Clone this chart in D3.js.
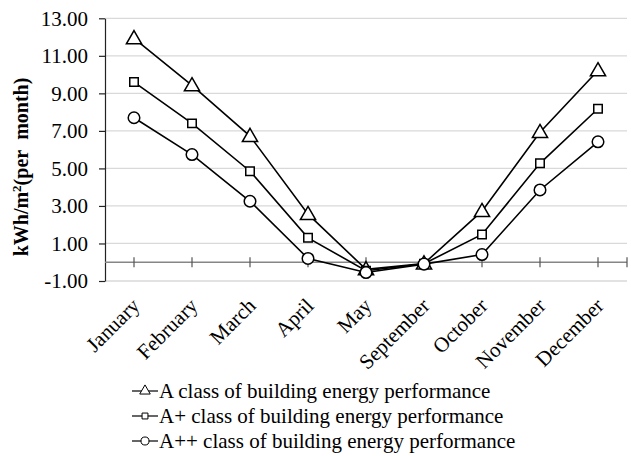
<!DOCTYPE html>
<html>
<head>
<meta charset="utf-8">
<script src="https://cdn.jsdelivr.net/npm/d3@7.9.0/dist/d3.min.js"></script>
<style>
  body { margin: 0; background: #fff; }
  svg text { font-family: "Liberation Serif", "Times New Roman", "DejaVu Serif", serif; }
</style>
</head>
<body>
<svg id="chart" width="631" height="456"></svg>
<script>
const months = ['January', 'February', 'March', 'April', 'May', 'September', 'October', 'November', 'December'];
const classA = [11.93, 9.42, 6.72, 2.56, -0.38, -0.07, 2.72, 6.93, 10.22];
const classAPlus = [9.6, 7.4, 4.85, 1.3, -0.45, -0.08, 1.48, 5.27, 8.18];
const classAPlusPlus = [7.7, 5.74, 3.25, 0.2, -0.55, -0.1, 0.41, 3.85, 6.42];
const yTicks = [-1, 1, 3, 5, 7, 9, 11, 13];

const series = [
  { name: 'A class of building energy performance', values: classA, symbol: d3.symbolTriangle },
  { name: 'A+ class of building energy performance', values: classAPlus, symbol: d3.symbolSquare },
  { name: 'A++ class of building energy performance', values: classAPlusPlus, symbol: d3.symbolCircle }
];

const serif = 'Liberation Serif';
const svg = d3.select('#chart');
const plotLeft = 105, plotRight = 627, plotTop = 18.3, plotBottom = 281;

const x = d3.scaleBand().domain(months).range([plotLeft, plotRight]);
const y = d3.scaleLinear().domain([-1, 13]).range([plotBottom, plotTop]);
const cx = (m) => x(m) + x.bandwidth() / 2;

// gridlines
svg.append('g')
  .selectAll('line')
  .data(yTicks)
  .join('line')
  .attr('x1', plotLeft).attr('x2', plotRight)
  .attr('y1', (d) => y(d)).attr('y2', (d) => y(d))
  .attr('stroke', '#d9d9d9').attr('stroke-width', 1.3);

// y axis
const yAxis = svg.append('g')
  .attr('transform', `translate(${plotLeft},0)`)
  .call(d3.axisLeft(y).tickValues(yTicks).tickSize(6).tickSizeOuter(0)
    .tickFormat((d) => d.toFixed(2)));
yAxis.attr('font-family', serif);
yAxis.select('.domain').attr('stroke', '#222').attr('stroke-width', 1.2);
yAxis.selectAll('.tick line').attr('stroke', '#222').attr('stroke-width', 1.2);
yAxis.selectAll('.tick text')
  .attr('x', -17)
  .attr('font-size', 21)
  .attr('fill', '#000');

// zero axis with crossing ticks
const zero = svg.append('g');
zero.append('line')
  .attr('x1', plotLeft).attr('x2', plotRight)
  .attr('y1', y(0)).attr('y2', y(0))
  .attr('stroke', '#868686').attr('stroke-width', 1.5);
zero.selectAll('line.tk')
  .data(months.map(cx).concat([plotRight]))
  .join('line')
  .attr('class', 'tk')
  .attr('x1', (d) => d).attr('x2', (d) => d)
  .attr('y1', y(0) - 5).attr('y2', y(0) + 5)
  .attr('stroke', '#555').attr('stroke-width', 1.2);

// month labels
svg.append('g')
  .selectAll('text')
  .data(months)
  .join('text')
  .attr('transform', (d) => `translate(${cx(d) + 7},${307}) rotate(-45)`)
  .attr('text-anchor', 'end')
  .attr('font-size', 21)
  .text((d) => d);

// y label
svg.append('text')
  .attr('transform', 'translate(28,167) rotate(-90)')
  .attr('text-anchor', 'middle')
  .attr('font-size', 20)
  .attr('font-weight', 'bold')
  .html('kWh/m<tspan dy="-7" font-size="13">2</tspan><tspan dy="7">(per&#160; month)</tspan>');

// lines
const line = d3.line().x((d, i) => cx(months[i])).y((d) => y(d));
svg.append('g')
  .selectAll('path')
  .data(series)
  .join('path')
  .attr('d', (s) => line(s.values))
  .attr('fill', 'none')
  .attr('stroke', '#000')
  .attr('stroke-width', 1.6);

function sym(s, k) {
  const size = s.symbol === d3.symbolTriangle ? 100 * k : s.symbol === d3.symbolSquare ? 72 * k : 105 * k;
  return d3.symbol().type(s.symbol).size(size)();
}

// markers
series.forEach((s) => {
  svg.append('g')
    .selectAll('path')
    .data(s.values)
    .join('path')
    .attr('d', sym(s, 1))
    .attr('transform', (d, i) => `translate(${cx(months[i])},${y(d) + (s.symbol === d3.symbolTriangle ? 1 : 0)})`)
    .attr('fill', '#fff')
    .attr('stroke', '#000')
    .attr('stroke-width', 1.5);
});

// legend
const legend = svg.append('g');
series.forEach((s, i) => {
  const ly = 391 + i * 25;
  legend.append('line')
    .attr('x1', 132).attr('x2', 158)
    .attr('y1', ly).attr('y2', ly)
    .attr('stroke', '#000').attr('stroke-width', 1.2);
  legend.append('path')
    .attr('d', sym(s, 0.48))
    .attr('transform', `translate(145,${ly})`)
    .attr('fill', '#fff')
    .attr('stroke', '#000')
    .attr('stroke-width', 1);
  legend.append('text')
    .attr('x', 159).attr('y', ly + 7)
    .attr('font-size', 21)
    .text(s.name);
});
</script>
</body>
</html>
